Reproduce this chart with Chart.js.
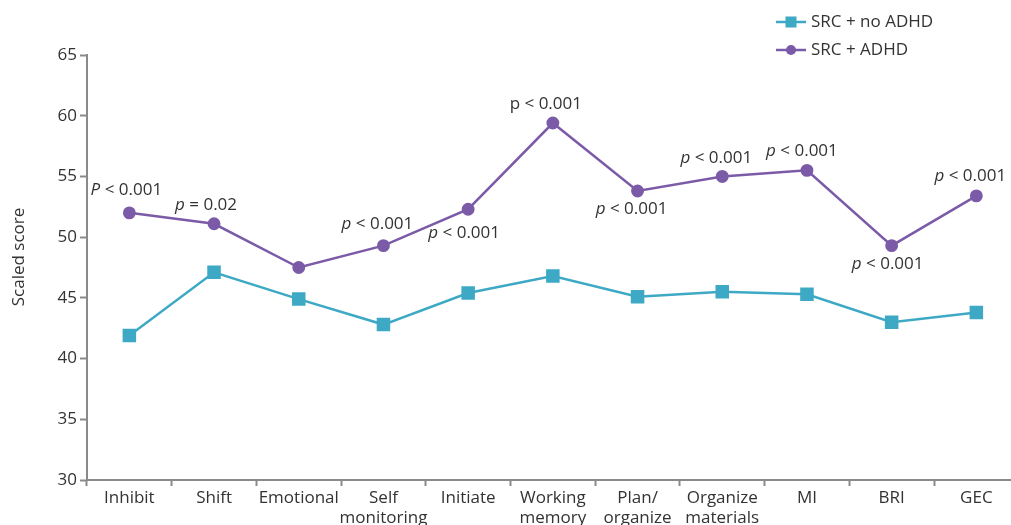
<!DOCTYPE html>
<html>
<head>
<meta charset="utf-8">
<script src="https://cdn.jsdelivr.net/npm/chart.js@4.4.1/dist/chart.umd.min.js"></script>
<style>
  html, body { margin: 0; padding: 0; background: #fff; overflow: hidden; }
  #wrap { width: 1011px; height: 525px; overflow: hidden; position: relative; }
  #chart { display: block; position: absolute; left: 0; top: 0; }
</style>
</head>
<body>
<div id="wrap"><canvas id="chart" width="1029" height="525"></canvas></div>
<script>
// BRIEF subscale scores by group
const categories = ['Inhibit', 'Shift', 'Emotional', ['Self', 'monitoring'], 'Initiate',
  ['Working', 'memory'], ['Plan/', 'organize'], ['Organize', 'materials'], 'MI', 'BRI', 'GEC'];
const noAdhd = [41.9, 47.1, 44.9, 42.8, 45.4, 46.8, 45.1, 45.5, 45.3, 43.0, 43.8];
const withAdhd = [52.0, 51.1, 47.5, 49.3, 52.3, 59.4, 53.8, 55.0, 55.5, 49.3, 53.4];
const pValues = ['P < 0.001', 'p = 0.02', null, 'p < 0.001', 'p < 0.001', 'p < 0.001',
  'p < 0.001', 'p < 0.001', 'p < 0.001', 'p < 0.001', 'p < 0.001'];
const yTicks = [30, 35, 40, 45, 50, 55, 60, 65];
const yTitle = 'Scaled score';

const TEAL = '#3ea9c5';
const PURPLE = '#7b5ba7';
const TEXT = '#333333';
const AXIS = '#8a8a8a';
const FONT = '"Open Sans", sans-serif';

// placement of each p-value label relative to its point (pixels)
const pLabelDy = [-23, -19, 0, -21, 24, -19, 18, -18, -19, 19, -20];
const pLabelDx = [-3, -8, 0, -6, -4, -7, -6, -6, -5, -4, -6];
const pItalicLead = [true, true, true, true, true, false, true, true, true, true, true];

const pLabelPlugin = {
  id: 'pLabels',
  afterDatasetsDraw(chart) {
    const ctx = chart.ctx;
    const meta = chart.getDatasetMeta(1);
    ctx.save();
    ctx.fillStyle = TEXT;
    ctx.textBaseline = 'middle';
    ctx.textAlign = 'left';
    pValues.forEach((txt, i) => {
      if (!txt) return;
      const pt = meta.data[i];
      const lead = txt.charAt(0);
      const rest = txt.slice(1);
      const leadFont = (pItalicLead[i] ? 'italic ' : '') + '17px ' + FONT;
      const restFont = '17px ' + FONT;
      ctx.font = leadFont;
      const w1 = ctx.measureText(lead).width;
      ctx.font = restFont;
      const w2 = ctx.measureText(rest).width;
      const x = pt.x + pLabelDx[i] - (w1 + w2) / 2;
      const y = pt.y + pLabelDy[i];
      ctx.font = leadFont;
      ctx.fillText(lead, x, y);
      ctx.font = restFont;
      ctx.fillText(rest, x + w1, y);
    });
    ctx.restore();
  }
};

// vertical axis title, set a little above the plot's middle
const yTitlePlugin = {
  id: 'yTitle',
  afterDraw(chart) {
    const ctx = chart.ctx;
    ctx.save();
    ctx.translate(19, 257);
    ctx.rotate(-Math.PI / 2);
    ctx.fillStyle = TEXT;
    ctx.font = '17px ' + FONT;
    ctx.textAlign = 'center';
    ctx.textBaseline = 'middle';
    ctx.fillText(yTitle, 0, 0);
    ctx.restore();
  }
};

const legendPlugin = {
  id: 'sideLegend',
  afterDraw(chart) {
    const ctx = chart.ctx;
    ctx.save();
    const x0 = 776, rows = [22, 50];
    chart.data.datasets.forEach((ds, i) => {
      const y = rows[i];
      ctx.strokeStyle = ds.borderColor;
      ctx.lineWidth = 2.5;
      ctx.beginPath();
      ctx.moveTo(x0, y);
      ctx.lineTo(x0 + 30, y);
      ctx.stroke();
      ctx.fillStyle = ds.borderColor;
      if (ds.pointStyle === 'rect') {
        ctx.fillRect(x0 + 15 - 5.5, y - 5.5, 11, 11);
      } else {
        ctx.beginPath();
        ctx.arc(x0 + 15, y, 5, 0, Math.PI * 2);
        ctx.fill();
      }
      ctx.fillStyle = TEXT;
      ctx.font = '17px ' + FONT;
      ctx.textAlign = 'left';
      ctx.textBaseline = 'middle';
      ctx.fillText(ds.label, x0 + 35, y);
    });
    ctx.restore();
  }
};

new Chart(document.getElementById('chart'), {
  type: 'line',
  data: {
    labels: categories,
    datasets: [
      {
        label: 'SRC + no ADHD',
        data: noAdhd,
        borderColor: TEAL,
        backgroundColor: TEAL,
        borderWidth: 2.5,
        pointStyle: 'rect',
        pointRadius: 7.8,
        pointHoverRadius: 7.8,
        tension: 0
      },
      {
        label: 'SRC + ADHD',
        data: withAdhd,
        borderColor: PURPLE,
        backgroundColor: PURPLE,
        borderWidth: 2.5,
        pointStyle: 'circle',
        pointRadius: 5.2,
        pointHoverRadius: 5.2,
        tension: 0
      }
    ]
  },
  options: {
    responsive: false,
    animation: false,
    devicePixelRatio: 1,
    layout: { padding: { top: 55, right: 2, left: 0, bottom: 0 } },
    plugins: {
      legend: { display: false },
      tooltip: { enabled: false }
    },
    scales: {
      x: {
        type: 'category',
        offset: true,
        grid: { offset: true, drawOnChartArea: false, tickLength: 6, tickColor: AXIS, tickWidth: 2 },
        border: { color: AXIS, width: 2 },
        ticks: { color: TEXT, font: { family: FONT, size: 17 }, maxRotation: 0, autoSkip: false, padding: 2 },
        afterFit(scale) { scale.height = 45; }
      },
      y: {
        min: 30,
        max: 65,
        afterBuildTicks(scale) { scale.ticks = yTicks.map(v => ({ value: v })); },
        grid: { drawOnChartArea: false, tickLength: 7, tickColor: AXIS, tickWidth: 2 },
        border: { color: AXIS, width: 2 },
        ticks: { color: TEXT, font: { family: FONT, size: 17 }, padding: 3 },
        afterFit(scale) { scale.width = 87; }
      }
    }
  },
  plugins: [pLabelPlugin, yTitlePlugin, legendPlugin]
});
</script>
</body>
</html>
